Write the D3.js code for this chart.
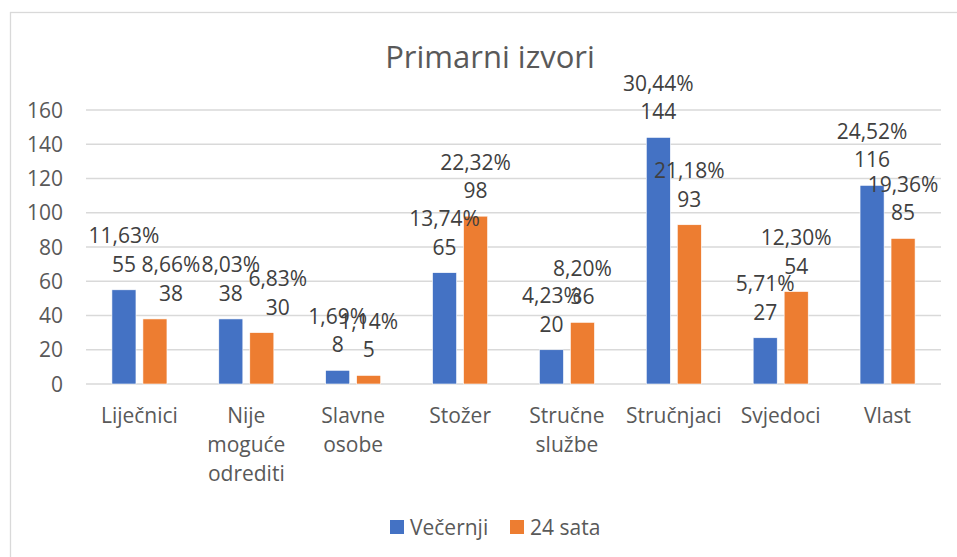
<!DOCTYPE html>
<html>

<head>
  <title>Primarni izvori</title>
  <meta charset="utf-8">
  <script src="https://d3js.org/d3.v7.min.js"></script>
  <style>
    body {
      padding: 0;
      margin: 0;
      background: white;
      font-family: "Open Sans", sans-serif;
    }
    .grid line {
      stroke: #d9d9d9;
      stroke-width: 1.3;
    }
    .tick-label {
      fill: #595959;
      font-size: 21px;
    }
    .cat-label {
      fill: #595959;
      font-size: 21px;
      text-anchor: middle;
    }
    .data-label {
      fill: #404040;
      font-size: 21px;
      text-anchor: middle;
    }
    .title {
      fill: #595959;
      font-size: 31px;
      text-anchor: middle;
    }
    .legend text {
      fill: #595959;
      font-size: 21px;
    }
  </style>
</head>

<body>
  <div id="chart"></div>

  <script>
      // categories (line breaks as in the picture)
      var categories = ["Liječnici", "Nije moguće odrediti", "Slavne osobe", "Stožer",
        "Stručne službe", "Stručnjaci", "Svjedoci", "Vlast"]
      var categoryLines = [["Liječnici"], ["Nije", "moguće", "odrediti"], ["Slavne", "osobe"],
        ["Stožer"], ["Stručne", "službe"], ["Stručnjaci"], ["Svjedoci"], ["Vlast"]]

      // series
      var seriesNames = ["Večernji", "24 sata"]
      var vecernjiValues = [55, 38, 8, 65, 20, 144, 27, 116]
      var sataValues = [38, 30, 5, 98, 36, 93, 54, 85]
      var vecernjiPct = ["11,63%", "8,03%", "1,69%", "13,74%", "4,23%", "30,44%", "5,71%", "24,52%"]
      var sataPct = ["8,66%", "6,83%", "1,14%", "22,32%", "8,20%", "21,18%", "12,30%", "19,36%"]

      var yTicks = [0, 20, 40, 60, 80, 100, 120, 140, 160]

      var colors = ["#4472C4", "#ED7D31"]

      // labels that were dragged a little to the right in the original
      var labelNudge = { "Liječnici|1": 16, "Nije moguće odrediti|1": 16 }

      var width = 957,
        height = 557

      var svg = d3.select("#chart")
        .append("svg")
        .attr("width", width)
        .attr("height", height)

      // chart area border
      svg.append("rect")
        .attr("x", 10.5)
        .attr("y", 12.5)
        .attr("width", 960)
        .attr("height", 560)
        .attr("fill", "white")
        .attr("stroke", "#d9d9d9")
        .attr("stroke-width", 1.3)

      svg.append("text")
        .attr("class", "title")
        .attr("x", 490)
        .attr("y", 68)
        .text("Primarni izvori")

      var y = d3.scaleLinear().domain([0, 160]).range([384, 110])

      var x = d3.scaleBand().domain(categories).range([86, 941]).padding(0)
      var step = x.bandwidth()
      var barW = step * 0.225,
        gap = step * 0.065

      // offset of each series inside its category
      var xSeries = d3.scaleOrdinal()
        .domain([0, 1])
        .range([step / 2 - gap / 2 - barW, step / 2 + gap / 2])

      // gridlines
      svg.append("g")
        .attr("class", "grid")
        .selectAll("line")
        .data(yTicks)
        .enter().append("line")
        .attr("x1", 86)
        .attr("x2", 941)
        .attr("y1", function (d) { return y(d) })
        .attr("y2", function (d) { return y(d) })

      // y tick labels
      svg.append("g")
        .selectAll("text")
        .data(yTicks)
        .enter().append("text")
        .attr("class", "tick-label")
        .attr("x", 63)
        .attr("y", function (d) { return y(d) })
        .attr("dy", "0.36em")
        .attr("text-anchor", "end")
        .text(function (d) { return d })

      // build rows for the bars
      var rows = []
      categories.forEach(function (c, i) {
        rows.push({ cat: c, s: 0, value: vecernjiValues[i], pct: vecernjiPct[i] })
        rows.push({ cat: c, s: 1, value: sataValues[i], pct: sataPct[i] })
      })

      svg.append("g")
        .selectAll("rect")
        .data(rows)
        .enter().append("rect")
        .attr("x", function (d) { return x(d.cat) + xSeries(d.s) })
        .attr("y", function (d) { return y(d.value) })
        .attr("width", barW)
        .attr("height", function (d) { return y(0) - y(d.value) })
        .attr("fill", function (d) { return colors[d.s] })
        .attr("stroke", "white")
        .attr("stroke-width", 0.6)

      // data labels: percentage above value
      var labels = svg.append("g")
        .selectAll("g")
        .data(rows)
        .enter().append("g")
        .attr("transform", function (d) {
          var cx = x(d.cat) + xSeries(d.s) + barW / 2 + (labelNudge[d.cat + "|" + d.s] || 0)
          return "translate(" + cx + "," + y(d.value) + ")"
        })

      labels.append("text")
        .attr("class", "data-label")
        .attr("y", -46.5)
        .text(function (d) { return d.pct })

      labels.append("text")
        .attr("class", "data-label")
        .attr("y", -18)
        .text(function (d) { return d.value })

      // category labels
      var cats = svg.append("g")
        .selectAll("text")
        .data(categories)
        .enter().append("text")
        .attr("class", "cat-label")
        .attr("x", function (d) { return x(d) + step / 2 })
        .attr("y", 423)

      cats.selectAll("tspan")
        .data(function (d, i) { return categoryLines[i] })
        .enter().append("tspan")
        .attr("x", function () { return d3.select(this.parentNode).attr("x") })
        .attr("dy", function (d, i) { return i === 0 ? 0 : 29 })
        .text(function (d) { return d })

      // legend
      var legendX = [390, 510]
      var legend = svg.append("g")
        .attr("class", "legend")
        .selectAll("g")
        .data(seriesNames)
        .enter().append("g")
        .attr("transform", function (d, i) { return "translate(" + legendX[i] + ",520)" })

      legend.append("rect")
        .attr("width", 14)
        .attr("height", 14)
        .attr("fill", function (d, i) { return colors[i] })

      legend.append("text")
        .attr("x", 20)
        .attr("y", 14.5)
        .text(function (d) { return d })

  </script>
</body>

</html>
